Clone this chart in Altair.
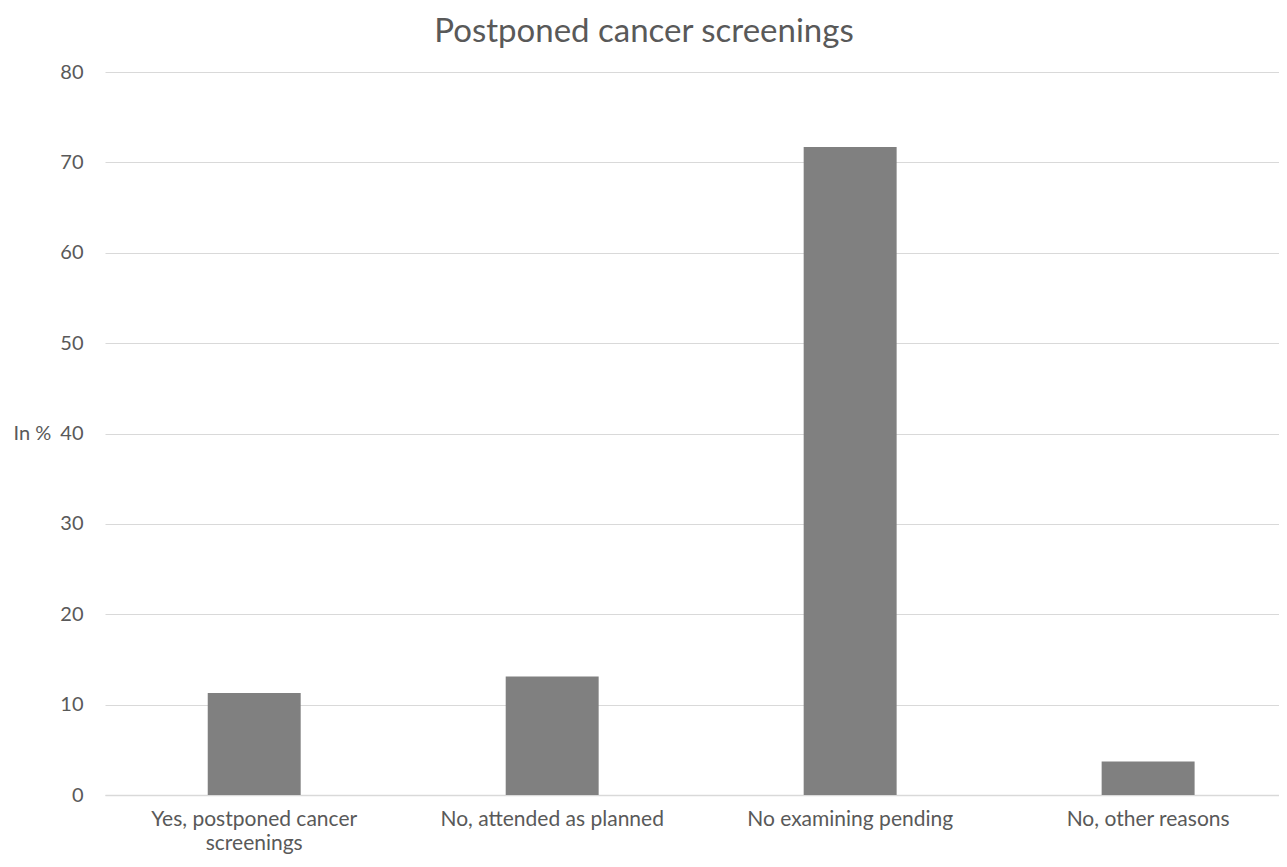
import altair as alt
import pandas as pd

categories = ["Yes, postponed cancer screenings", "No, attended as planned",
              "No examining pending", "No, other reasons"]
values = [11.3, 13.1, 71.7, 3.7]

df = pd.DataFrame({"category": categories, "value": values})

FONT = "Lato"
TXT = "#595959"

label_expr = ("datum.label == 'Yes, postponed cancer screenings' ? "
              "['Yes, postponed cancer', 'screenings'] : datum.label")

chart = alt.Chart(df).mark_bar(color="#808080").encode(
    x=alt.X("category:N", sort=categories,
            scale=alt.Scale(paddingInner=0.688, paddingOuter=0.314, align=0.549),
            axis=alt.Axis(title=None, labelAngle=0, labelExpr=label_expr,
                          labelFont=FONT, labelFontSize=21, labelColor=TXT,
                          labelPadding=13, labelLineHeight=24, labelLimit=500,
                          ticks=False, domainColor="#d9d9d9", domainWidth=1.5)),
    y=alt.Y("value:Q", scale=alt.Scale(domain=[0, 80], nice=False),
            axis=alt.Axis(title="In %", titleAngle=0, titleX=-92, titleY=361.5,
                          titleAlign="left", titleBaseline="middle",
                          titleFont=FONT, titleFontSize=20, titleFontWeight="normal",
                          titleColor=TXT,
                          values=[0, 10, 20, 30, 40, 50, 60, 70, 80],
                          labelFont=FONT, labelFontSize=20, labelColor=TXT,
                          labelPadding=22, ticks=False, domain=False,
                          gridColor="#d9d9d9", gridWidth=1.2)),
).properties(
    width=1174, height=723,
    title=alt.TitleParams("Postponed cancer screenings", font=FONT, fontSize=33,
                          fontWeight="normal", color=TXT, anchor="middle",
                          offset=13, dx=-48),
    autosize=alt.AutoSizeParams(type="none"),
    padding={"left": 97, "top": 64, "right": 0, "bottom": 62},
).configure_view(stroke=None)

chart.save("out.html", embed_options={"renderer": "svg", "actions": False})
